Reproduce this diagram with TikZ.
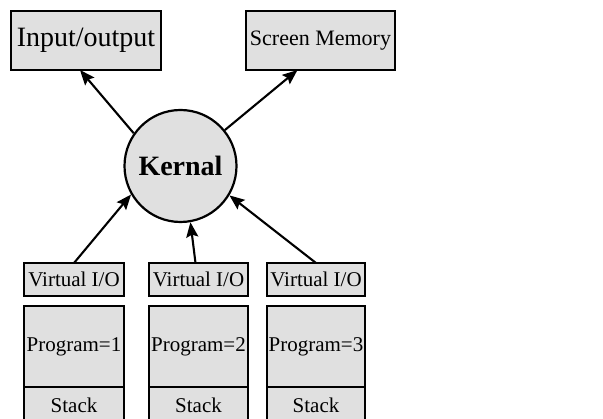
\documentclass[tikz,border=0pt]{standalone}
\usepackage{fontspec}
\setmainfont{Liberation Serif}
\usetikzlibrary{shapes.geometric, arrows.meta, positioning}
\tikzstyle{box} = [rectangle, minimum height=33pt, text centered, draw=black, fill=black!12, line width=2.2pt, inner sep=0pt, outer sep=0pt, font=\fontsize{21}{24}\selectfont]
\tikzstyle{outbox} = [box, minimum width=150pt, minimum height=59pt]
\tikzstyle{slot} = [box, minimum width=100pt]
\tikzstyle{arrow} = [line width=2.1pt, -{Stealth[length=15pt, width=12pt, inset=2.5pt]}]

\begin{document}
\begin{tikzpicture}[x=1pt, y=1pt]
      \useasboundingbox (0,0) rectangle (603,-419);
      \clip (0,0) rectangle (603,-419);

      \node (io) [outbox, font=\fontsize{28}{30}\selectfont] at (86,-40.5) {Input/output};
      \node (screen) [outbox, minimum width=149pt, right=85pt of io, font=\fontsize{22}{24}\selectfont] {Screen Memory};

      \node (kernal) [circle, draw=black, fill=black!12, line width=2.2pt, minimum size=112pt, inner sep=0pt, font={\fontsize{28}{30}\selectfont\bfseries}] at (180.5,-166) {Kernal};

      \node (vio1) [slot] at (74,-279.5) {Virtual I/O};
      \node (vio2) [slot, minimum width=99pt, right=25pt of vio1] {Virtual I/O};
      \node (vio3) [slot, minimum width=98pt, right=19pt of vio2] {Virtual I/O};

      \node (prog1) [slot, minimum height=81pt, below=10pt of vio1] {Program=1};
      \node (prog2) [slot, minimum width=99pt, minimum height=81pt, below=10pt of vio2] {Program=2};
      \node (prog3) [slot, minimum width=98pt, minimum height=81pt, below=10pt of vio3] {Program=3};

      \node (stack1) [slot, minimum height=36pt, below=0pt of prog1] {Stack};
      \node (stack2) [slot, minimum width=99pt, minimum height=36pt, below=0pt of prog2] {Stack};
      \node (stack3) [slot, minimum width=98pt, minimum height=36pt, below=0pt of prog3] {Stack};

      \draw [arrow] (kernal.145) -- ([xshift=-6pt]io.south);
      \draw [arrow] (kernal.39) -- ([xshift=-23pt]screen.south);
      \draw [arrow] (vio1.north) -- (kernal.210);
      \draw [arrow] ([xshift=-3pt]vio2.north) -- (kernal.280);
      \draw [arrow] (vio3.north) -- (kernal.329);
    \end{tikzpicture}
\end{document}
